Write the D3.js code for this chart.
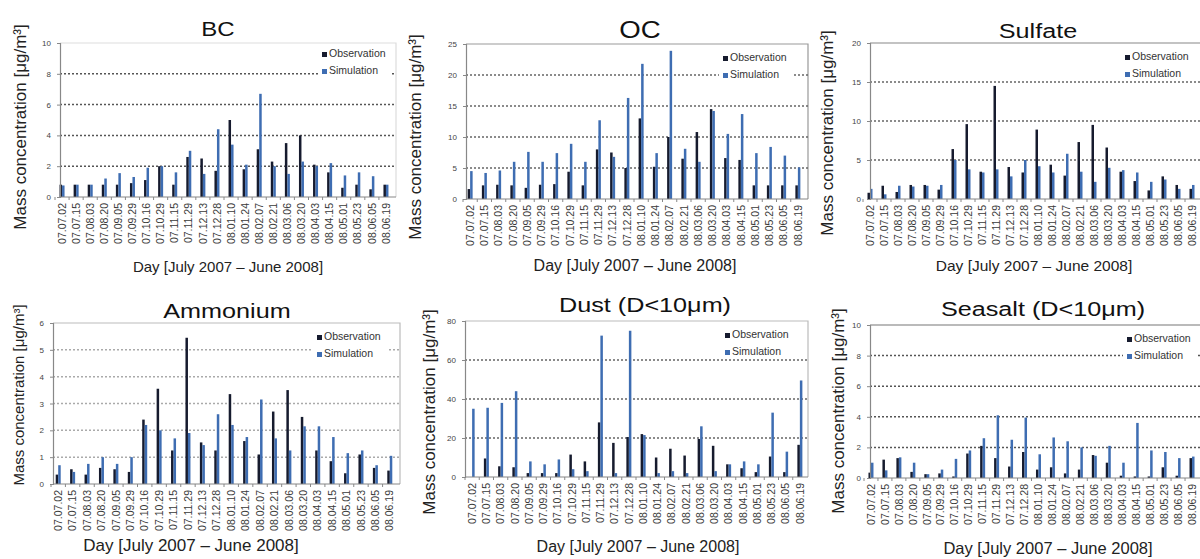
<!DOCTYPE html>
<meta charset="utf-8">
<style>
    body {
        margin: 0;
        background-color: #fff;
    }

    svg {
        font-family: "Liberation Sans", Arial, sans-serif;
    }
</style>
<body>
<script src="https://cdn.jsdelivr.net/npm/d3@7"></script>
<script>

    // sampling days, same for every panel
    const dates = ["07.07.02", "07.07.15", "07.08.03", "07.08.20", "07.09.05", "07.09.29",
        "07.10.16", "07.10.29", "07.11.15", "07.11.29", "07.12.13", "07.12.28",
        "08.01.10", "08.01.24", "08.02.07", "08.02.21", "08.03.06", "08.03.20",
        "08.04.03", "08.04.15", "08.05.01", "08.05.23", "08.06.05", "08.06.19"];

    // values (ug/m3)
    const bcObs = [0.8, 0.8, 0.8, 0.8, 0.8, 0.9, 1.1, 2.0, 0.8, 2.6, 2.5, 1.7, 5.0, 1.8, 3.1, 2.3, 3.5, 4.0, 2.1, 1.6, 0.6, 0.8, 0.5, 0.8];
    const bcSim = [0.75, 0.8, 0.8, 1.2, 1.55, 1.3, 1.9, 2.0, 1.6, 3.0, 1.5, 4.4, 3.4, 2.1, 6.7, 2.0, 1.5, 2.3, 2.0, 2.2, 1.4, 1.6, 1.35, 0.8];

    const ocObs = [1.6, 2.2, 2.3, 2.2, 1.8, 2.3, 2.4, 4.4, 2.2, 8.0, 7.5, 5.0, 13.0, 5.2, 10.0, 6.5, 10.8, 14.5, 6.6, 6.3, 2.2, 2.2, 2.2, 2.2];
    const ocSim = [4.5, 4.2, 4.6, 6.0, 7.6, 6.0, 7.4, 8.9, 6.0, 12.7, 6.8, 16.3, 21.8, 7.4, 23.9, 8.1, 6.0, 14.2, 10.5, 13.7, 7.4, 8.4, 7.0, 5.1];

    const so4Obs = [0.8, 1.7, 0.9, 1.8, 1.8, 1.2, 6.4, 9.6, 3.5, 14.5, 4.1, 3.4, 8.9, 4.4, 3.0, 7.3, 9.5, 6.6, 3.5, 2.3, 1.1, 2.9, 1.8, 1.3];
    const so4Sim = [1.3, 0.6, 1.7, 1.6, 1.7, 1.8, 5.0, 3.8, 3.4, 3.8, 2.9, 5.0, 4.2, 3.4, 5.8, 3.5, 2.2, 4.0, 3.7, 3.4, 2.2, 2.5, 1.3, 1.8];

    const nh4Obs = [0.35, 0.55, 0.35, 0.6, 0.55, 0.45, 2.4, 3.55, 1.25, 5.45, 1.55, 1.25, 3.35, 1.6, 1.1, 2.7, 3.5, 2.5, 1.25, 0.85, 0.4, 1.1, 0.6, 0.5];
    const nh4Sim = [0.7, 0.45, 0.75, 1.0, 0.75, 1.0, 2.2, 2.0, 1.7, 1.9, 1.45, 2.6, 2.2, 1.75, 3.15, 1.7, 1.25, 2.15, 2.15, 1.75, 1.15, 1.25, 0.7, 1.05];

    const dustObs = [0, 9.5, 5.5, 5, 2, 2, 2, 11.5, 8, 28, 17.5, 20.5, 22, 10, 14.5, 11, 19.5, 16, 6.5, 4.5, 2.5, 10.5, 2.5, 16.5];
    const dustSim = [35, 35.5, 38, 44, 8, 6.5, 9, 4, 3, 72.5, 2, 75, 21.5, 2, 3, 2, 26, 3, 6.5, 8, 6.5, 33, 13, 49.5];

    const saltObs = [0.35, 1.2, 1.3, 0.4, 0.25, 0.3, 0.1, 1.6, 2.1, 1.3, 0.75, 1.7, 0.55, 0.7, 0.3, 0.55, 1.5, 1.0, 0.15, 0.1, 0.1, 0.7, 0.15, 1.3];
    const saltSim = [1.0, 0.5, 1.35, 1.0, 0.25, 0.55, 1.25, 1.8, 2.6, 4.1, 2.5, 3.95, 1.55, 2.65, 2.4, 2.0, 1.45, 2.1, 1.0, 3.6, 1.8, 1.7, 1.3, 1.4];

    const seriesNames = ["Observation", "Simulation"];
    const obsColor = "#161b2e";
    const simColor = "#3e6db2";

    // one entry per panel: data + where it sits on the page
    const panels = [
        {title: "BC", obs: bcObs, sim: bcSim, yMax: 10, yStep: 2,
            l: 60, r: 396, t: 43, b: 197, band: [55, 393], grid: "#555", border: "#ddd",
            tx: 218, ty: 36, tfs: 20, yx: 26, yy: 127, yfs: 17, xx: 228, xy: 272, xfs: 15, lx: 322, ly: 57},
        {title: "OC", obs: ocObs, sim: ocSim, yMax: 25, yStep: 5,
            l: 466, r: 808, t: 44, b: 199, band: [463, 805], grid: "#666", border: "#999",
            tx: 640, ty: 38, tfs: 23, yx: 421, yy: 137, yfs: 17, xx: 635, xy: 271, xfs: 16, lx: 723, ly: 61},
        {title: "Sulfate", obs: so4Obs, sim: so4Sim, yMax: 20, yStep: 5,
            l: 870, r: 1212, t: 43, b: 199, band: [863, 1199], grid: "#666", border: "#888",
            tx: 1038, ty: 38, tfs: 21, yx: 833, yy: 133, yfs: 17, xx: 1034, xy: 271, xfs: 15.5, lx: 1125, ly: 60},
        {title: "Ammonium", obs: nh4Obs, sim: nh4Sim, yMax: 6, yStep: 1,
            l: 53, r: 400, t: 323, b: 484, band: [51, 397], grid: "#aaa", border: "#bbb",
            tx: 227, ty: 318, tfs: 21, yx: 24, yy: 395, yfs: 15, xx: 191, xy: 551, xfs: 17, lx: 317, ly: 340},
        {title: "Dust (D<10\u03bcm)", obs: dustObs, sim: dustSim, yMax: 80, yStep: 20,
            l: 465, r: 808, t: 321, b: 477, band: [465, 807], grid: "#666", border: "#bbb",
            tx: 645, ty: 312, tfs: 21, yx: 435, yy: 412, yfs: 17, xx: 638, xy: 552, xfs: 16, lx: 725, ly: 338},
        {title: "Seasalt (D<10\u03bcm)", obs: saltObs, sim: saltSim, yMax: 10, yStep: 2,
            l: 870, r: 1212, t: 325, b: 478, band: [864, 1199], grid: "#555", border: "#777",
            tx: 1043, ty: 316, tfs: 21, yx: 844, yy: 411, yfs: 17, xx: 1048, xy: 554, xfs: 16.5, lx: 1127, ly: 342}
    ];

    const svg = d3.select('body')
        .append('svg')
        .attr('width', 1200)
        .attr('height', 559);

    panels.forEach(p => {
        const g = svg.append('g').attr('class', 'panel');

        const x = d3.scaleBand()
            .domain(dates)
            .range(p.band);

        const y = d3.scaleLinear()
            .domain([0, p.yMax])
            .range([p.b, p.t]);

        const ticks = d3.range(0, p.yMax + p.yStep / 2, p.yStep);

        // plot frame (top + right, light)
        g.append('path')
            .attr('d', `M${p.l},${p.t}H${p.r}V${p.b}`)
            .style('fill', 'none')
            .style('stroke', p.border)
            .style('stroke-width', 1.2);

        // dotted gridlines
        g.selectAll('.grid')
            .data(ticks.filter(d => d > 0 && d < p.yMax))
            .enter().append('line')
            .attr('class', 'grid')
            .attr('x1', p.l)
            .attr('x2', p.r)
            .attr('y1', d => y(d))
            .attr('y2', d => y(d))
            .style('stroke', p.grid)
            .style('stroke-width', 1.5)
            .style('stroke-dasharray', '2,2');

        // bars
        const bw = 2.5;
        g.selectAll('.obs')
            .data(p.obs)
            .enter().append('rect')
            .attr('class', 'obs')
            .attr('x', (d, i) => x(dates[i]) + x.bandwidth() / 2 - bw)
            .attr('width', bw)
            .attr('y', d => y(d))
            .attr('height', d => y(0) - y(d))
            .style('fill', obsColor);

        g.selectAll('.sim')
            .data(p.sim)
            .enter().append('rect')
            .attr('class', 'sim')
            .attr('x', (d, i) => x(dates[i]) + x.bandwidth() / 2)
            .attr('width', bw)
            .attr('y', d => y(d))
            .attr('height', d => y(0) - y(d))
            .style('fill', simColor);

        // y axis
        const yAxis = g.append('g')
            .attr('transform', `translate(${p.l},0)`)
            .call(d3.axisLeft(y).tickValues(ticks).tickFormat(d3.format('~g')).tickSize(3).tickPadding(6));
        yAxis.select('.domain').style('stroke', '#888').style('stroke-width', 1.2);
        yAxis.selectAll('.tick line').style('stroke', '#888');
        yAxis.selectAll('.tick text')
            .style('font-size', '8px')
            .style('fill', '#444')
            .style('font-family', '"Liberation Sans", Arial, sans-serif');

        // x axis: line at zero, small ticks between days
        g.append('line')
            .attr('x1', p.l).attr('x2', p.r)
            .attr('y1', y(0)).attr('y2', y(0))
            .style('stroke', '#888')
            .style('stroke-width', 1.2);

        g.selectAll('.xtick')
            .data(dates)
            .enter().append('line')
            .attr('class', 'xtick')
            .attr('x1', d => x(d)).attr('x2', d => x(d))
            .attr('y1', y(0)).attr('y2', y(0) + 3)
            .style('stroke', '#888');

        g.selectAll('.xlabel')
            .data(dates)
            .enter().append('text')
            .attr('class', 'xlabel')
            .attr('transform', d => `translate(${x(d) + x.bandwidth() / 2},${y(0) + 6}) rotate(-90)`)
            .attr('dy', '0.35em')
            .style('text-anchor', 'end')
            .style('font-size', '10.5px')
            .style('fill', '#3a3a3a')
            .text(d => d);

        // titles
        g.append('text')
            .attr('transform', `translate(${p.tx},${p.ty}) scale(1.2,1)`)
            .style('text-anchor', 'middle')
            .style('font-size', p.tfs + 'px')
            .style('fill', '#111')
            .text(p.title);

        g.append('text')
            .attr('transform', `translate(${p.yx},${p.yy}) rotate(-90)`)
            .style('text-anchor', 'middle')
            .style('font-size', p.yfs + 'px')
            .style('fill', '#222')
            .text('Mass concentration [\u03bcg/m\u00b3]');

        g.append('text')
            .attr('x', p.xx)
            .attr('y', p.xy)
            .style('text-anchor', 'middle')
            .style('font-size', p.xfs + 'px')
            .style('fill', '#222')
            .text('Day [July 2007 \u2013 June 2008]');

        // legend with white backing so gridlines stop behind it
        const legend = g.append('g')
            .attr('transform', `translate(${p.lx},${p.ly})`);

        legend.append('rect')
            .attr('x', -4).attr('y', -10)
            .attr('width', 74).attr('height', 30)
            .style('fill', '#fff');

        const item = legend.selectAll('.item')
            .data(seriesNames)
            .enter().append('g')
            .attr('class', 'item')
            .attr('transform', (d, i) => `translate(0,${i * 17})`);

        item.append('rect')
            .attr('x', 0).attr('y', -5)
            .attr('width', 5).attr('height', 5)
            .style('fill', (d, i) => i === 0 ? obsColor : simColor);

        item.append('text')
            .attr('x', 7)
            .attr('y', 0)
            .style('font-size', '10.5px')
            .style('fill', '#333')
            .text(d => d);
    });

</script>
</body>
